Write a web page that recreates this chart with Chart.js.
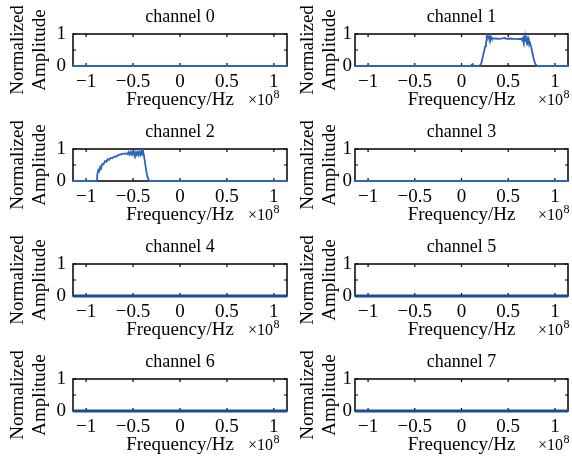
<!DOCTYPE html>
<html>
<head>
<meta charset="utf-8">
<script src="https://cdn.jsdelivr.net/npm/chart.js@4.4.1/dist/chart.umd.min.js"></script>
<style>
  body { margin: 0; background: #fff; overflow: hidden; width: 572px; height: 459px; }
  .cell { position: absolute; }
</style>
</head>
<body>
<div id="grid"></div>
<script>
// frequencies are in units of 1e8 Hz (the axis shows "x10^8")
const channelNames = ['channel 0', 'channel 1', 'channel 2', 'channel 3',
                      'channel 4', 'channel 5', 'channel 6', 'channel 7'];
const xTicks = [-1, -0.5, 0, 0.5, 1];
const yTicks = [0, 0.5, 1];

const flatFreq = [-1.14, 1.14];
const flatAmp = [0, 0];

const ch1Freq = [-1.14, 0.100, 0.110, 0.120, 0.130, 0.190, 0.205, 0.215, 0.225, 0.235, 0.245,
  0.255, 0.262, 0.268, 0.270, 0.273, 0.276, 0.279, 0.282, 0.285, 0.288, 0.291, 0.294, 0.297,
  0.300, 0.304, 0.308, 0.312, 0.316, 0.320, 0.325, 0.330, 0.360, 0.400, 0.440, 0.460, 0.480,
  0.520, 0.560, 0.600, 0.640, 0.650, 0.660, 0.667, 0.674, 0.681, 0.688, 0.695, 0.702, 0.709,
  0.716, 0.722, 0.730, 0.745, 0.760, 0.775, 0.790, 0.810, 1.14];
const ch1Amp = [0, 0, 0.04, 0.06, 0, 0, 0.04, 0.12, 0.25, 0.38, 0.50,
  0.62, 0.72, 0.80, 1.00, 0.86, 0.99, 0.87, 0.97, 0.86, 0.95, 0.87, 0.94, 0.86,
  0.92, 0.86, 0.91, 0.85, 0.90, 0.86, 0.89, 0.86, 0.86, 0.85, 0.86, 0.88, 0.85,
  0.86, 0.85, 0.84, 0.85, 0.80, 0.88, 0.79, 0.87, 0.78, 0.87, 0.77, 0.86, 0.78,
  0.85, 0.78, 0.76, 0.60, 0.40, 0.20, 0.06, 0, 0];

const ch2Freq = [-1.14, -0.885, -0.880, -0.870, -0.860, -0.850, -0.840, -0.830, -0.815, -0.800,
  -0.785, -0.770, -0.755, -0.740, -0.720, -0.700, -0.680, -0.660, -0.620, -0.580, -0.560,
  -0.550, -0.540, -0.530, -0.520, -0.510, -0.500, -0.490, -0.480, -0.470, -0.460, -0.450,
  -0.440, -0.430, -0.420, -0.410, -0.400, -0.395, -0.390, -0.385, -0.375, -0.365, -0.355,
  -0.345, -0.335, -0.325, -0.310, 1.14];
const ch2Amp = [0, 0, 0.24, 0.34, 0.30, 0.44, 0.40, 0.53, 0.52, 0.62,
  0.60, 0.68, 0.66, 0.72, 0.71, 0.77, 0.76, 0.81, 0.84, 0.86, 0.84,
  0.90, 0.83, 0.90, 0.83, 0.90, 0.82, 0.90, 0.82, 0.90, 0.82, 0.91,
  0.82, 0.91, 0.82, 0.92, 0.82, 1.00, 0.85, 0.80, 0.62, 0.42, 0.25,
  0.12, 0.04, 0.01, 0, 0];

const spectra = [
  [flatFreq, flatAmp], [ch1Freq, ch1Amp], [ch2Freq, ch2Amp], [flatFreq, flatAmp],
  [flatFreq, flatAmp], [flatFreq, flatAmp], [flatFreq, flatAmp], [flatFreq, flatAmp]
];
const lineWidths = [1.8, 1.8, 1.8, 1.8, 3, 3, 3, 3];
const lineColors = ['#2d66b8', '#2d66b8', '#2d66b8', '#2d66b8', '#1d4a93', '#1d4a93', '#1d4a93', '#1d4a93'];

const serif = 'Liberation Serif';

// black box with inward ticks, plus the x10^8 exponent
const boxPlugin = {
  id: 'box',
  beforeDatasetsDraw(chart) {
    const {ctx, chartArea: a, scales} = chart;
    ctx.save();
    ctx.strokeStyle = '#000';
    ctx.lineWidth = 1.5;
    ctx.strokeRect(a.left, a.top, a.right - a.left, a.bottom - a.top);
    ctx.lineWidth = 1.2;
    ctx.beginPath();
    xTicks.forEach(v => {
      const px = scales.x.getPixelForValue(v);
      ctx.moveTo(px, a.bottom); ctx.lineTo(px, a.bottom - 3);
      ctx.moveTo(px, a.top); ctx.lineTo(px, a.top + 3);
    });
    yTicks.forEach(v => {
      const py = scales.y.getPixelForValue(v);
      ctx.moveTo(a.left, py); ctx.lineTo(a.left + 3, py);
      ctx.moveTo(a.right, py); ctx.lineTo(a.right - 3, py);
    });
    ctx.stroke();
    ctx.restore();
  },
  afterDraw(chart, args, opts) {
    const {ctx, chartArea: a} = chart;
    ctx.save();
    ctx.fillStyle = '#000';
    ctx.textBaseline = 'middle';
    ctx.font = '16px "' + serif + '"';
    const x0 = a.right - opts.shift;
    ctx.fillText('\u00d710', x0, 101);
    const w = ctx.measureText('\u00d710').width;
    ctx.font = '12px "' + serif + '"';
    ctx.fillText('8', x0 + w + 0.5, 95);
    ctx.restore();
  }
};

const fmt = v => v === 0 ? '0' : (v < 0 ? '\u2212' : '') + Math.abs(v);

const grid = document.getElementById('grid');
channelNames.forEach((name, k) => {
  const col = k % 2, row = Math.floor(k / 2);
  const cell = document.createElement('div');
  cell.className = 'cell';
  const w = col === 0 ? 290 : 282;
  cell.style.left = (col === 0 ? 0 : 290) + 'px';
  cell.style.top = (row * 115) + 'px';
  const cv = document.createElement('canvas');
  cv.width = w; cv.height = 115;
  cv.style.width = w + 'px'; cv.style.height = '115px';
  cell.appendChild(cv);
  grid.appendChild(cell);

  const [freq, amp] = spectra[k];
  new Chart(cv, {
    type: 'line',
    data: {
      datasets: [{
        data: freq.map((f, i) => ({x: f, y: amp[i]})),
        borderColor: lineColors[k],
        borderWidth: lineWidths[k],
        pointRadius: 0,
        tension: 0,
        clip: 6
      }]
    },
    options: {
      responsive: false,
      animation: false,
      events: [],
      layout: { padding: { left: 0, right: col === 0 ? 3 : 4, top: 0, bottom: 0 } },
      plugins: {
        legend: { display: false },
        tooltip: { enabled: false },
        title: {
          display: true,
          text: name,
          fullSize: false,
          color: '#000',
          font: { family: serif, size: 18, weight: 'normal', lineHeight: 1.2 },
          padding: { top: 6, bottom: 6.4 }
        },
        box: { shift: col === 0 ? 39 : 30 }
      },
      scales: {
        x: {
          type: 'linear',
          min: -1.14,
          max: 1.14,
          afterBuildTicks: s => { s.ticks = xTicks.map(v => ({value: v})); },
          afterFit: s => { s.height = 49; },
          grid: { display: false, drawTicks: false },
          border: { display: false },
          ticks: {
            color: '#000', padding: 5, maxRotation: 0, autoSkip: false,
            font: { family: serif, size: 19 },
            callback: v => fmt(v)
          },
          title: {
            display: true, text: 'Frequency/Hz', color: '#000',
            font: { family: serif, size: 19 },
            padding: { top: 0, bottom: 3.5 }
          }
        },
        y: {
          min: 0,
          max: 1,
          afterBuildTicks: s => { s.ticks = yTicks.map(v => ({value: v})); },
          afterFit: s => { s.width = col === 0 ? 73 : 65; },
          grid: { display: false, drawTicks: false },
          border: { display: false },
          ticks: {
            color: '#000', padding: col === 0 ? 7 : 3,
            font: { family: serif, size: 19 },
            callback: v => (v === 0.5 ? '' : fmt(v))
          },
          title: {
            display: true, text: ['Normalized', 'Amplitude'], color: '#000',
            font: { family: serif, size: 19, lineHeight: '22px' },
            padding: { top: 7, bottom: 0 }
          }
        }
      }
    },
    plugins: [boxPlugin]
  });
});
</script>
</body>
</html>
